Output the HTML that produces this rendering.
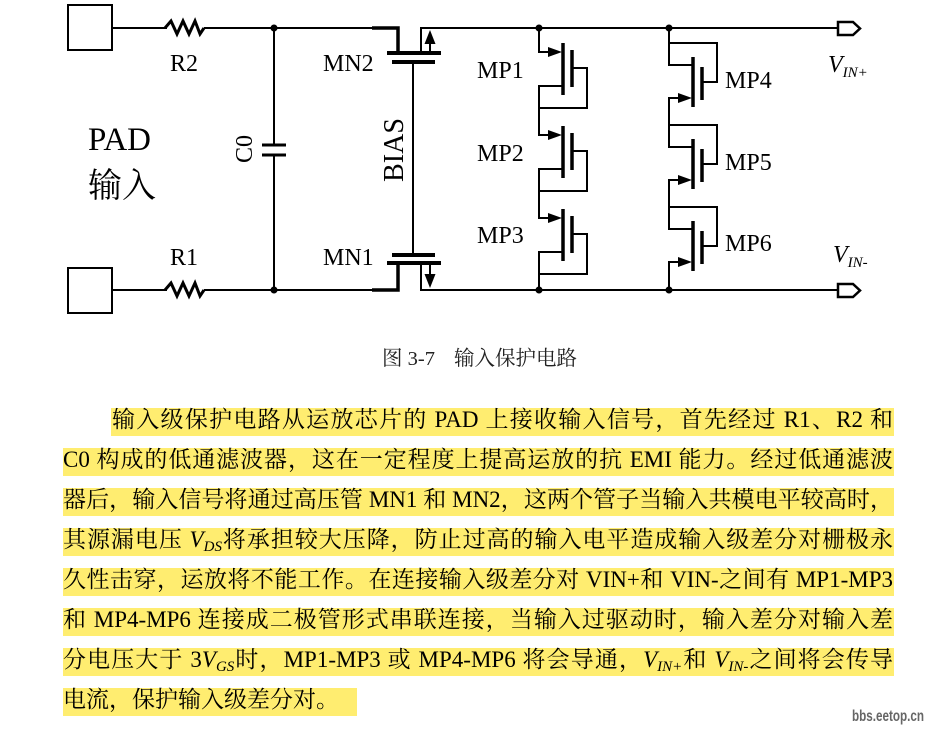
<!DOCTYPE html>
<html>
<head>
<meta charset="utf-8">
<style>
  html,body{margin:0;padding:0;background:#fff;}
  body{width:928px;height:730px;position:relative;overflow:hidden;}
  .band{position:absolute;height:28px;background:#FFED70;}
  .ln{position:absolute;font-family:"Liberation Serif","Noto Serif CJK SC",serif;font-size:23px;line-height:28px;height:28px;color:#000;text-align:justify;text-align-last:justify;white-space:normal;text-spacing-trim:space-all;}
  .ln i{font-style:italic;}
  .ln .sb{font-style:italic;font-size:15px;vertical-align:-4px;line-height:0;}
  .cap{position:absolute;font-family:"Liberation Serif","Noto Serif CJK SC",serif;font-size:20.5px;line-height:24px;color:#222;white-space:nowrap;text-spacing-trim:space-all;}
  .wm{position:absolute;left:852px;top:708px;font-family:"Liberation Sans",sans-serif;font-weight:bold;font-size:16px;line-height:18px;color:#666;transform:scaleX(0.73);transform-origin:0 0;white-space:nowrap;}
</style>
</head>
<body>
<svg width="928" height="330" viewBox="0 0 928 330" style="position:absolute;left:0;top:0" xmlns="http://www.w3.org/2000/svg">
  <g fill="none" stroke="#000" stroke-width="2" stroke-linejoin="miter">
    <rect x="68" y="5" width="44" height="45" fill="#fff"/>
    <rect x="68" y="268" width="44" height="45" fill="#fff"/>
    <path d="M112 28 H167"/>
    <path d="M165 28 L171 21 L177 34 L183 21 L189 34 L195 21 L200 34 L204 28" stroke-width="3"/>
    <path d="M204 28 H374"/>
    <path d="M112 290 H167"/>
    <path d="M165 290 L171 283 L177 296 L183 283 L189 296 L195 283 L200 296 L204 290" stroke-width="3"/>
    <path d="M204 290 H374"/>
    <path d="M274 28 V145"/>
    <path d="M274 155 V290"/>
    <path d="M262 145 H286 M262 155 H286" stroke-width="3"/>
    <path d="M372 28 H398 V53" stroke-width="3.5"/>
    <path d="M387 53 H441" stroke-width="4"/>
    <path d="M392 62 H435" stroke-width="4"/>
    <path d="M421 53 V28 H838"/>
    <path d="M430 53 V42"/>
    <path d="M413 62 V255"/>
    <path d="M392 255 H435" stroke-width="4"/>
    <path d="M387 263 H441" stroke-width="4"/>
    <path d="M372 290 H398 V263" stroke-width="3.5"/>
    <path d="M421 263 V290 H838"/>
    <path d="M430 263 V276"/>

    <path d="M539 28 V52 H552"/>
    <path d="M563 43 V95" stroke-width="3.5"/>
    <path d="M572 50 V87" stroke-width="3.5"/>
    <path d="M572 68 H587 V108 H539"/>
    <path d="M563 86 H539 V135 H552"/>

    <path d="M563 126 V178" stroke-width="3.5"/>
    <path d="M572 133 V170" stroke-width="3.5"/>
    <path d="M572 151 H587 V191 H539"/>
    <path d="M563 169 H539 V218 H552"/>

    <path d="M563 209 V261" stroke-width="3.5"/>
    <path d="M572 216 V253" stroke-width="3.5"/>
    <path d="M572 234 H587 V274 H539"/>
    <path d="M563 252 H539 V290"/>

    <path d="M669 28 V65 H693"/>
    <path d="M669 43 H717 V82 H702"/>
    <path d="M693 57 V107" stroke-width="3.5"/>
    <path d="M702 67 V100" stroke-width="3.5"/>
    <path d="M682 98 H669 V147 H693"/>
    <path d="M669 125 H717 V164 H702"/>
    <path d="M693 139 V189" stroke-width="3.5"/>
    <path d="M702 149 V182" stroke-width="3.5"/>
    <path d="M682 180 H669 V229 H693"/>
    <path d="M669 207 H717 V246 H702"/>
    <path d="M693 221 V271" stroke-width="3.5"/>
    <path d="M702 231 V264" stroke-width="3.5"/>
    <path d="M682 262 H669 V290"/>

    <path d="M838 22 H853 L860 28.5 L853 35 H838 Z" stroke-width="2.5" fill="#fff"/>
    <path d="M838 284 H853 L860 290.5 L853 297 H838 Z" stroke-width="2.5" fill="#fff"/>
  </g>
  <g fill="#000" stroke="none">
    <polygon points="430,30 424.5,44 435.5,44"/>
    <polygon points="430,288 424.5,274 435.5,274"/>
    <polygon points="548,47 548,57 562,52"/>
    <polygon points="548,130 548,140 562,135"/>
    <polygon points="548,213 548,223 562,218"/>
    <polygon points="678,93 678,103 692,98"/>
    <polygon points="678,175 678,185 692,180"/>
    <polygon points="678,257 678,267 692,262"/>
    <circle cx="274" cy="28" r="3.5"/>
    <circle cx="274" cy="290" r="3.5"/>
    <circle cx="539" cy="28" r="3.5"/>
    <circle cx="539" cy="290" r="3.5"/>
    <circle cx="669" cy="28" r="3.5"/>
    <circle cx="669" cy="290" r="3.5"/>
  </g>
  <g font-family="Liberation Serif, Noto Serif CJK SC, serif" fill="#000" font-size="24">
    <text x="170" y="71">R2</text>
    <text x="170" y="265">R1</text>
    <text x="323" y="71">MN2</text>
    <text x="323" y="265">MN1</text>
    <text x="477" y="78">MP1</text>
    <text x="477" y="161">MP2</text>
    <text x="477" y="243">MP3</text>
    <text x="725" y="88">MP4</text>
    <text x="725" y="170">MP5</text>
    <text x="725" y="251">MP6</text>
    <text transform="translate(252,149) rotate(-90)" text-anchor="middle">C0</text>
    <text transform="translate(403,150) rotate(-90)" text-anchor="middle" font-size="28">BIAS</text>
    <text x="88" y="150" font-size="33">PAD</text>
    <text x="88" y="197" font-size="34" font-family="Noto Serif CJK SC, serif">输入</text>
    <text x="828" y="72" font-style="italic">V<tspan font-size="15" dy="5">IN+</tspan></text>
    <text x="833" y="262" font-style="italic">V<tspan font-size="15" dy="5">IN-</tspan></text>
  </g>
</svg>

<div class="cap" style="left:382px;top:347px;">图 3-7</div>
<div class="cap" style="left:454px;top:347px;">输入保护电路</div>

<div class="band" style="left:111px;top:408px;width:783px;"></div>
<div class="band" style="left:63px;top:448px;width:831px;"></div>
<div class="band" style="left:63px;top:488px;width:831px;"></div>
<div class="band" style="left:63px;top:528px;width:831px;"></div>
<div class="band" style="left:63px;top:568px;width:831px;"></div>
<div class="band" style="left:63px;top:608px;width:831px;"></div>
<div class="band" style="left:63px;top:648px;width:831px;"></div>
<div class="band" style="left:63px;top:688px;width:294px;"></div>

<div class="ln" style="left:112px;top:406px;width:781px;">输入级保护电路从运放芯片的 PAD 上接收输入信号，首先经过 R1、R2 和</div>
<div class="ln" style="left:63px;top:446px;width:830px;">C0 构成的低通滤波器，这在一定程度上提高运放的抗 EMI 能力。经过低通滤波</div>
<div class="ln" style="left:63px;top:486px;width:830px;">器后，输入信号将通过高压管 MN1 和 MN2，这两个管子当输入共模电平较高时，</div>
<div class="ln" style="left:63px;top:526px;width:830px;">其源漏电压 <i>V</i><span class="sb">DS</span>将承担较大压降，防止过高的输入电平造成输入级差分对栅极永</div>
<div class="ln" style="left:63px;top:566px;width:830px;">久性击穿，运放将不能工作。在连接输入级差分对 VIN+和 VIN-之间有 MP1-MP3</div>
<div class="ln" style="left:63px;top:606px;width:830px;">和 MP4-MP6 连接成二极管形式串联连接，当输入过驱动时，输入差分对输入差</div>
<div class="ln" style="left:63px;top:646px;width:830px;">分电压大于 3<i>V</i><span class="sb">GS</span>时，MP1-MP3 或 MP4-MP6 将会导通，<i>V</i><span class="sb">IN+</span>和 <i>V</i><span class="sb">IN-</span>之间将会传导</div>
<div class="ln" style="left:63px;top:686px;width:300px;text-align:left;text-align-last:left;">电流，保护输入级差分对。</div>

<div class="wm">bbs.eetop.cn</div>
</body>
</html>
